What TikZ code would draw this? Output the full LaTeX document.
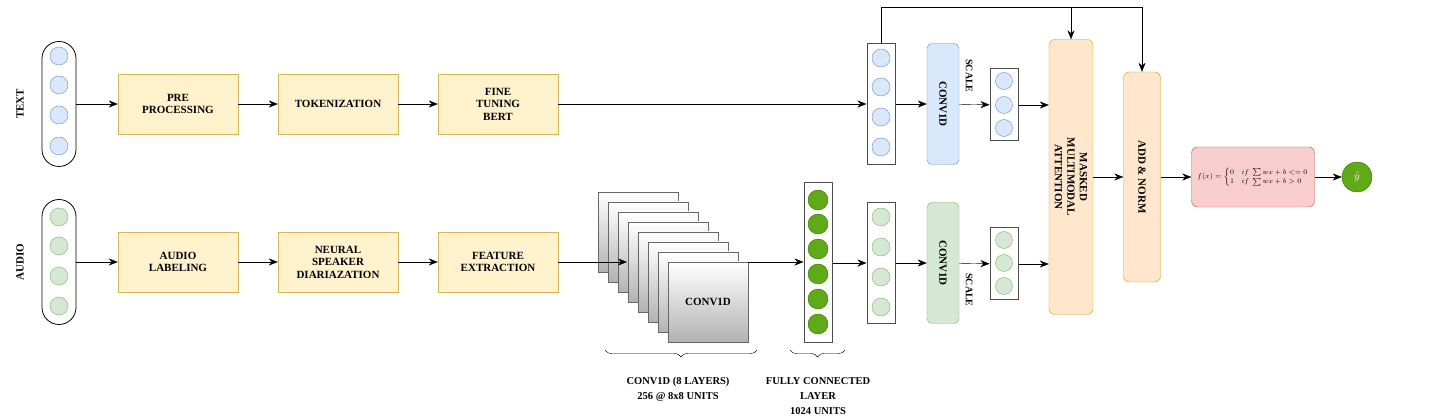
\documentclass[tikz,border=0pt]{standalone}
\usepackage{fontspec}
\setmainfont{Liberation Serif}
\usepackage{amsmath}
\usetikzlibrary{arrows.meta, positioning, decorations.pathreplacing}
\definecolor{BlueFill}{HTML}{DAE8FC}
\definecolor{BlueLine}{HTML}{6C8EBF}
\definecolor{GreenFill}{HTML}{D5E8D4}
\definecolor{GreenLine}{HTML}{82B366}
\definecolor{YellowFill}{HTML}{FFF2CC}
\definecolor{YellowLine}{HTML}{D6B656}
\definecolor{OrangeFill}{HTML}{FFE6CC}
\definecolor{OrangeLine}{HTML}{D79B00}
\definecolor{RedFill}{HTML}{F8CECC}
\definecolor{RedLine}{HTML}{B85450}
\definecolor{DarkGreen}{HTML}{60A917}
\definecolor{DarkGreenLine}{HTML}{2D7600}

\begin{document}
\begin{tikzpicture}[x=1pt, y=-1pt, font=\fontsize{11}{12.5}\selectfont\bfseries, >={Stealth[length=9pt,width=7pt]},
    stage/.style={rectangle, draw=YellowLine, fill=YellowFill, minimum width=120pt, minimum height=60pt, align=center},
    conv/.style={rectangle, rounded corners=5pt, minimum width=32pt, minimum height=121pt},
    vec/.style={rectangle, draw=black!70, line width=1pt, fill=white, minimum width=28pt},
    unit/.style={circle, minimum size=18pt, inner sep=0pt},
    pill/.style={rectangle, rounded corners=17pt, draw, line width=0.8pt, fill=white, minimum width=34pt, minimum height=125pt},
    layer/.style={rectangle, draw=black!60, top color=white, bottom color=black!30, minimum size=80pt}]

    \useasboundingbox (0,0) rectangle (1443,419);

    % inputs
    \node[rotate=90] (TXT) at (20,104) {TEXT};
    \node[rotate=90] (AUD) at (20,262) {AUDIO};
    \node[pill] (Tin) at (59,104) {};
    \node[pill] (Ain) at (59,262) {};
    \foreach \y in {56,85,115,146}
        \node[unit, draw=BlueLine, fill=BlueFill] at (59,\y) {};
    \foreach \y in {217,246,276,306}
        \node[unit, draw=GreenLine, fill=GreenFill] at (59,\y) {};

    % preprocessing stages
    \node[stage] (T1) at (178,104) {PRE\\PROCESSING};
    \node[stage] (T2) at (338,104) {TOKENIZATION};
    \node[stage] (T3) at (498,104) {FINE\\TUNING\\BERT};
    \node[stage] (A1) at (178,262) {AUDIO\\LABELING};
    \node[stage] (A2) at (338,262) {NEURAL\\SPEAKER\\DIARIAZATION};
    \node[stage] (A3) at (498,262) {FEATURE\\EXTRACTION};

    % conv stack
    \foreach \i in {0,...,6}
        \node[layer] (L\i) at (638+10*\i,232+10*\i) {};
    \node[layer] (L7) at (708,302) {CONV1D};
    \coordinate (Cin) at (627,262);

    % fully connected
    \node[vec, minimum height=160pt] (FC) at (818,263) {};
    \foreach \y in {200,224,249,274,299,324}
        \node[unit, minimum size=20pt, draw=DarkGreenLine, fill=DarkGreen] at (818,\y) {};

    % vectors
    \node[vec, minimum height=121pt] (Tv) at (881,104) {};
    \node[vec, minimum height=121pt] (Av) at (881,263) {};
    \foreach \y in {58,87,117,147}
        \node[unit, draw=BlueLine, fill=BlueFill] at (881,\y) {};
    \foreach \y in {217,247,277,307}
        \node[unit, draw=GreenLine, fill=GreenFill] at (881,\y) {};

    \node[conv, draw=BlueLine, fill=BlueFill] (Tc) at (943,104) {};
    \node[conv, draw=GreenLine, fill=GreenFill] (Ac) at (943,263) {};
    \node[rotate=-90] at (Tc) {CONV1D};
    \node[rotate=-90] at (Ac) {CONV1D};
    \node[rotate=-90, font=\fontsize{10}{11}\selectfont\bfseries] (Ts) at (969,76) {SCALE};
    \node[rotate=-90, font=\fontsize{10}{11}\selectfont\bfseries] (As) at (969,290) {SCALE};

    \node[vec, minimum height=72pt] (Ts2) at (1004,105) {};
    \node[vec, minimum height=72pt] (As2) at (1004,264) {};
    \foreach \y in {81,105,128}
        \node[unit, minimum size=17pt, draw=BlueLine, fill=BlueFill] at (1004,\y) {};
    \foreach \y in {240,263,286}
        \node[unit, minimum size=17pt, draw=GreenLine, fill=GreenFill] at (1004,\y) {};

    % fusion
    \node[rectangle, rounded corners=6pt, draw=OrangeLine, fill=OrangeFill, minimum width=44pt, minimum height=275pt] (MMA) at (1071,177) {};
    \node[rotate=-90, align=center] at (MMA) {MASKED\\MULTIMODAL\\ATTENTION};
    \node[rectangle, rounded corners=6pt, draw=OrangeLine, fill=OrangeFill, minimum width=37pt, minimum height=210pt] (AN) at (1142,177) {};
    \node[rotate=-90] at (AN) {ADD \& NORM};
    \node[rectangle, rounded corners=6pt, draw=RedLine, fill=RedFill, minimum width=123pt, minimum height=60pt, inner sep=1pt, font=\fontsize{7.5}{8}\selectfont] (F) at (1253,177)
        {$f(x)=\begin{cases}0 & if\ \sum wx+b<=0\\ 1 & if\ \sum wx+b>0\end{cases}$};
    \node[circle, draw=DarkGreenLine, fill=DarkGreen, text=white, minimum size=30pt, inner sep=0pt, font=\fontsize{11}{12}\selectfont] (Y) at (1357,177) {$\hat{y}$};

    % connections
    \draw[->] (Tin) -- (T1);
    \draw[->] (T1) -- (T2);
    \draw[->] (T2) -- (T3);
    \draw[->] (T3) -- (Tv);
    \draw[->] (Ain) -- (A1);
    \draw[->] (A1) -- (A2);
    \draw[->] (A2) -- (A3);
    \draw[->] (A3.east) -- (Cin);
    \draw[->] (L7.east |- Cin) -- (FC.west |- Cin);
    \draw[->] (FC) -- (Av);
    \draw[->] (Tv) -- (Tc);
    \draw[->] (Av) -- (Ac);
    \draw[->] (Tc) -- (Ts2);
    \draw[->] (Ac) -- (As2);
    \draw[->] (Ts2) -- (MMA.west |- Ts2);
    \draw[->] (As2) -- (MMA.west |- As2);
    \draw[->] (MMA) -- (AN);
    \draw[->] (AN) -- (F);
    \draw[->] (F) -- (Y);
    \draw (Tv.north) -- ++(0,-36) coordinate (Top) -- (Top -| AN.north);
    \draw[->] (Top -| MMA.north) -- (MMA.north);
    \draw[->] (Top -| AN.north) -- (AN.north);

    % braces
    \draw[decorate, decoration={brace, mirror, amplitude=7pt}, thin] (605,350) -- (757,350);
    \draw[decorate, decoration={brace, mirror, amplitude=7pt}, thin] (790,350) -- (845,350);
    \node[align=center, font=\fontsize{10.5}{15}\selectfont\bfseries] (CL) at (678,389) {CONV1D (8 LAYERS)\\256 @ 8x8 UNITS};
    \node[align=center, font=\fontsize{10.5}{15}\selectfont\bfseries] (FL) at (818,396) {FULLY CONNECTED\\LAYER\\1024 UNITS};

\end{tikzpicture}
\end{document}
